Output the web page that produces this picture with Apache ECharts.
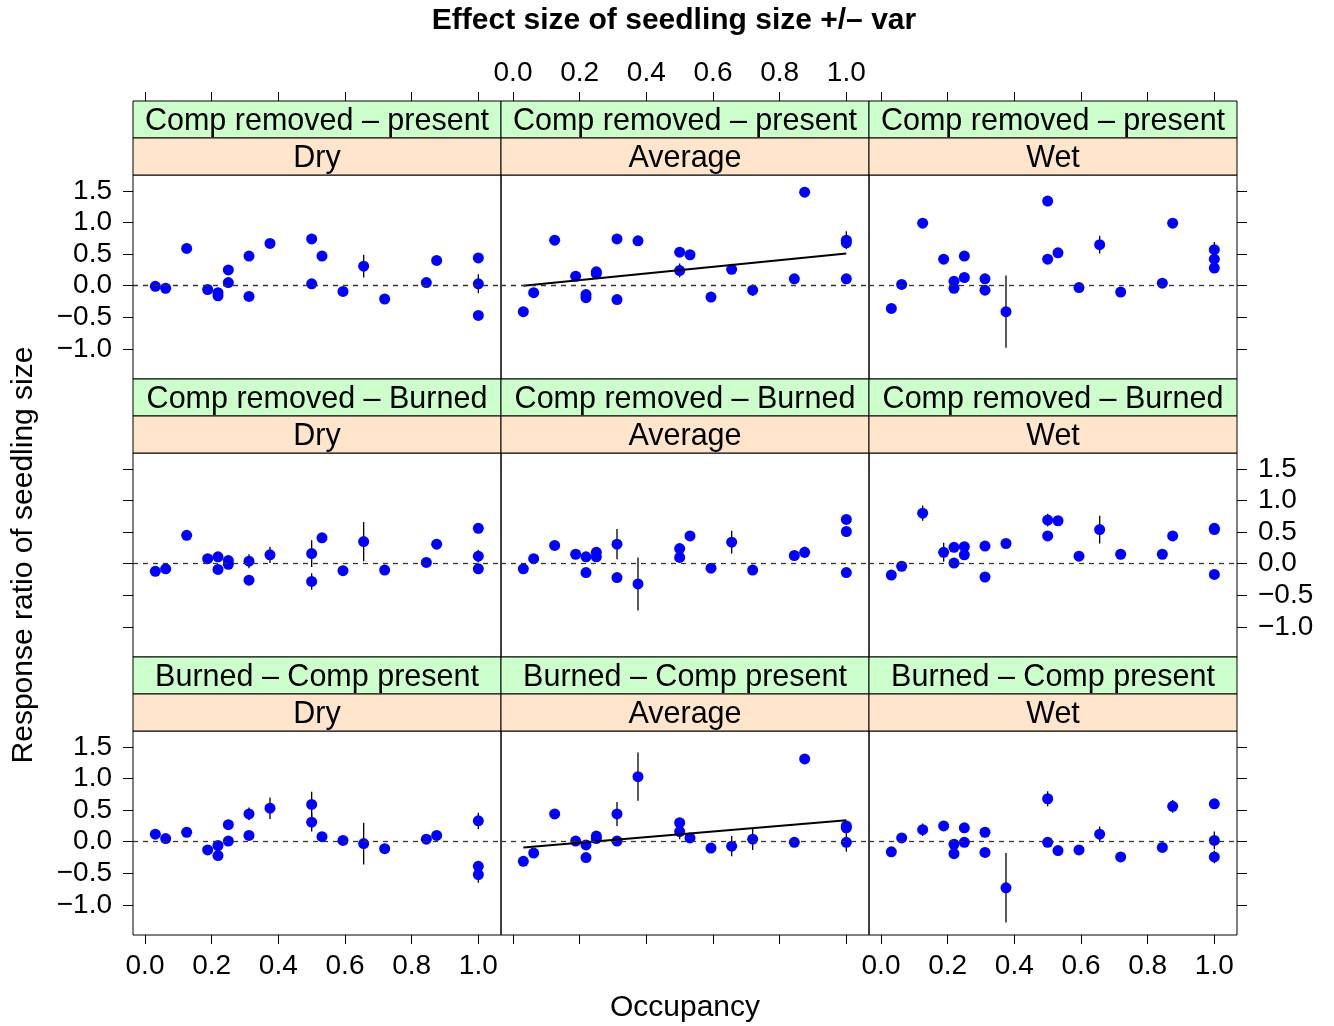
<!DOCTYPE html>
<html><head><meta charset="utf-8">
<script src="https://cdn.jsdelivr.net/npm/echarts@6/dist/echarts.min.js"></script>
<style>html,body{margin:0;padding:0;background:#fff}#c{width:1334px;height:1026px}</style>
</head><body><div id="c"></div>
<script>
// ---- data ----
const occTicks = [0, 0.2, 0.4, 0.6, 0.8, 1.0];
const ratioTicks = [-1, -0.5, 0, 0.5, 1, 1.5];
const treatments = ['Comp removed \u2013 present', 'Comp removed \u2013 Burned', 'Burned \u2013 Comp present'];
const seasons = ['Dry', 'Average', 'Wet'];

// [occupancy, response ratio, half error bar]
const presentDry = [[0.031,-0.01,0],[0.062,-0.04,0],[0.125,0.59,0],[0.188,-0.06,0],[0.219,-0.11,0],[0.219,-0.16,0],[0.25,0.25,0],[0.25,0.05,0],[0.312,0.47,0],[0.312,-0.17,0],[0.375,0.67,0],[0.5,0.74,0],[0.5,0.03,0],[0.531,0.47,0],[0.594,-0.09,0],[0.656,0.31,0.18],[0.719,-0.21,0],[0.844,0.05,0],[0.875,0.40,0],[1.0,0.44,0],[1.0,0.03,0.15],[1.0,-0.47,0]];
const presentAvg = [[0.031,-0.41,0],[0.062,-0.11,0],[0.125,0.72,0],[0.188,0.15,0],[0.219,-0.14,0],[0.219,-0.19,0],[0.25,0.22,0],[0.25,0.19,0],[0.312,0.74,0],[0.312,-0.22,0],[0.375,0.71,0],[0.5,0.53,0],[0.5,0.24,0.11],[0.531,0.49,0],[0.594,-0.18,0],[0.656,0.26,0],[0.719,-0.07,0.09],[0.844,0.11,0],[0.875,1.48,0],[1.0,0.72,0.14],[1.0,0.68,0],[1.0,0.11,0]];
const presentWet = [[0.031,-0.36,0],[0.062,0.02,0],[0.125,0.99,0],[0.188,0.42,0.05],[0.219,0.07,0],[0.219,-0.04,0],[0.25,0.47,0],[0.25,0.13,0],[0.312,0.11,0],[0.312,-0.07,0],[0.375,-0.41,0.57],[0.5,1.34,0],[0.5,0.42,0],[0.531,0.52,0],[0.594,-0.03,0],[0.656,0.65,0.14],[0.719,-0.10,0],[0.844,0.04,0],[0.875,0.99,0],[1.0,0.57,0.12],[1.0,0.42,0],[1.0,0.28,0]];
const burnedDry = [[0.031,-0.12,0],[0.062,-0.08,0],[0.125,0.45,0],[0.188,0.08,0],[0.219,0.11,0],[0.219,-0.09,0],[0.25,0.05,0],[0.25,-0.01,0],[0.312,0.04,0.11],[0.312,-0.26,0],[0.375,0.14,0.13],[0.5,0.16,0.21],[0.5,-0.28,0.13],[0.531,0.41,0],[0.594,-0.11,0],[0.656,0.35,0.31],[0.719,-0.10,0],[0.844,0.02,0],[0.875,0.31,0],[1.0,0.56,0],[1.0,0.12,0.10],[1.0,-0.08,0]];
const burnedAvg = [[0.031,-0.08,0],[0.062,0.08,0],[0.125,0.29,0],[0.188,0.15,0],[0.219,0.11,0],[0.219,-0.14,0],[0.25,0.18,0],[0.25,0.11,0],[0.312,0.31,0.24],[0.312,-0.22,0],[0.375,-0.32,0.42],[0.5,0.24,0],[0.5,0.10,0],[0.531,0.44,0],[0.594,-0.07,0],[0.656,0.34,0.18],[0.719,-0.10,0],[0.844,0.13,0],[0.875,0.18,0.09],[1.0,0.70,0],[1.0,0.51,0.08],[1.0,-0.14,0]];
const burnedWet = [[0.031,-0.18,0],[0.062,-0.04,0],[0.125,0.80,0.12],[0.188,0.18,0.15],[0.219,0.26,0],[0.219,0.01,0],[0.25,0.27,0],[0.25,0.14,0],[0.312,0.28,0],[0.312,-0.21,0],[0.375,0.32,0],[0.5,0.69,0.1],[0.5,0.44,0],[0.531,0.68,0],[0.594,0.12,0],[0.656,0.54,0.22],[0.719,0.15,0],[0.844,0.15,0],[0.875,0.44,0],[1.0,0.56,0.03],[1.0,0.54,0],[1.0,-0.17,0]];
const compDry = [[0.031,0.12,0],[0.062,0.05,0],[0.125,0.15,0],[0.188,-0.13,0],[0.219,-0.06,0],[0.219,-0.22,0],[0.25,0.27,0],[0.25,0.01,0],[0.312,0.44,0.1],[0.312,0.10,0],[0.375,0.53,0.17],[0.5,0.59,0.2],[0.5,0.31,0.15],[0.531,0.08,0],[0.594,0.02,0],[0.656,-0.03,0.33],[0.719,-0.11,0],[0.844,0.04,0],[0.875,0.10,0],[1.0,0.33,0.13],[1.0,-0.39,0],[1.0,-0.52,0.13]];
const compAvg = [[0.031,-0.31,0],[0.062,-0.18,0],[0.125,0.44,0],[0.188,0.01,0],[0.219,-0.05,0],[0.219,-0.25,0],[0.25,0.09,0],[0.25,0.05,0],[0.312,0.44,0.19],[0.312,0.01,0],[0.375,1.03,0.38],[0.5,0.30,0],[0.5,0.16,0.12],[0.531,0.06,0],[0.594,-0.10,0],[0.656,-0.07,0.16],[0.719,0.04,0.17],[0.844,-0.01,0],[0.875,1.31,0],[1.0,0.25,0],[1.0,0.22,0],[1.0,-0.01,0.15]];
const compWet = [[0.031,-0.16,0],[0.062,0.06,0],[0.125,0.19,0.1],[0.188,0.25,0],[0.219,-0.04,0],[0.219,-0.19,0],[0.25,0.22,0],[0.25,-0.01,0],[0.312,0.15,0],[0.312,-0.17,0],[0.375,-0.73,0.55],[0.5,0.68,0.12],[0.5,-0.01,0],[0.531,-0.14,0],[0.594,-0.13,0],[0.656,0.12,0.12],[0.719,-0.24,0],[0.844,-0.09,0],[0.875,0.56,0.1],[1.0,0.60,0],[1.0,0.02,0.14],[1.0,-0.24,0.1]];

// fitted regression lines (end points) for the two panels that show one
const fitPresentAvg = [[0.031, 0.0], [1.0, 0.51]];
const fitCompAvg = [[0.031, -0.09], [1.0, 0.34]];

const panels = [[presentDry, presentAvg, presentWet],[burnedDry, burnedAvg, burnedWet],[compDry, compAvg, compWet]];
const fits = [[null, fitPresentAvg, null],[null, null, null],[null, fitCompAvg, null]];

// ---- layout ----
const colLeft = [133, 501, 869];
const rowTop = [175, 453, 731];
const PW = 368, PH = 204, SH = 37;
const FONT = '"Liberation Sans", Arial, Helvetica, sans-serif';
const fmt = v => (v < 0 ? '\u2212' : '') + Math.abs(v).toFixed(1);

const grid = [], xAxis = [], yAxis = [], series = [], graphic = [];
for (let r = 0; r < 3; r++) {
  for (let c = 0; c < 3; c++) {
    const i = r * 3 + c;
    grid.push({left: colLeft[c], top: rowTop[r], width: PW, height: PH, show: true,
      borderColor: '#000', borderWidth: 1, backgroundColor: 'transparent', containLabel: false});
    xAxis.push({gridIndex: i, type: 'value', min: -0.036, max: 1.068,
      position: r === 0 ? 'top' : 'bottom', offset: r === 0 ? 2 * SH : 0,
      axisLine: {show: false, onZero: false}, splitLine: {show: false},
      axisTick: {show: r !== 1, length: 9, customValues: occTicks, lineStyle: {color: '#000', width: 1}},
      axisLabel: {show: (r === 0 && c === 1) || (r === 2 && c !== 1), customValues: occTicks,
        formatter: fmt, fontSize: 28, fontFamily: FONT, color: '#000', margin: r === 0 ? 14 : 17}});
    yAxis.push({gridIndex: i, type: 'value', min: -1.476, max: 1.752,
      position: c === 2 ? 'right' : 'left',
      axisLine: {show: false, onZero: false}, splitLine: {show: false},
      axisTick: {show: c !== 1, length: 10, customValues: ratioTicks, lineStyle: {color: '#000', width: 1}},
      axisLabel: {show: (c === 0 && r !== 1) || (c === 2 && r === 1), customValues: ratioTicks,
        formatter: fmt, fontSize: 28, fontFamily: FONT, color: '#000', margin: 21}});
    const d = panels[r][c];
    series.push({type: 'custom', xAxisIndex: i, yAxisIndex: i, z: 2, silent: true,
      data: d.filter(p => p[2] > 0),
      encode: {x: 0, y: 1},
      renderItem: (params, api) => {
        const x = api.value(0), y = api.value(1), e = api.value(2);
        const p1 = api.coord([x, y - e]), p2 = api.coord([x, y + e]);
        return {type: 'line', shape: {x1: p1[0], y1: p1[1], x2: p2[0], y2: p2[1]},
          style: {stroke: '#000', lineWidth: 1.3}};
      },
      markLine: {silent: true, symbol: 'none', label: {show: false}, animation: false,
        lineStyle: {color: '#333', width: 1.3, type: [5, 5]}, data: [{yAxis: 0}]}
    });
    series.push({type: 'scatter', xAxisIndex: i, yAxisIndex: i, z: 3, silent: true,
      symbol: 'circle', symbolSize: 11, itemStyle: {color: '#0000ff', opacity: 1},
      data: d.map(p => [p[0], p[1]])});
    if (fits[r][c]) {
      series.push({type: 'line', xAxisIndex: i, yAxisIndex: i, z: 4, silent: true,
        symbol: 'none', lineStyle: {color: '#000', width: 2}, data: fits[r][c]});
    }
    // strips
    const sy = rowTop[r] - 2 * SH;
    graphic.push({type: 'rect', shape: {x: colLeft[c], y: sy, width: PW, height: SH},
      style: {fill: '#ccffcc', stroke: '#000', lineWidth: 1}, z: 10});
    graphic.push({type: 'rect', shape: {x: colLeft[c], y: sy + SH, width: PW, height: SH},
      style: {fill: '#ffe5cc', stroke: '#000', lineWidth: 1}, z: 10});
    graphic.push({type: 'text', x: colLeft[c] + PW / 2, y: sy + SH / 2 + 2, z: 11,
      style: {text: treatments[r], fontSize: 30.5, fontFamily: FONT, fill: '#000', align: 'center', verticalAlign: 'middle'}});
    graphic.push({type: 'text', x: colLeft[c] + PW / 2, y: sy + SH * 1.5 + 2, z: 11,
      style: {text: seasons[c], fontSize: 30.5, fontFamily: FONT, fill: '#000', align: 'center', verticalAlign: 'middle'}});
  }
}
const plotCenterX = colLeft[0] + 1.5 * PW;
graphic.push({type: 'text', x: 674, y: 21, z: 11,
  style: {text: 'Effect size of seedling size +/\u2013 var', fontSize: 30, fontWeight: 'bold', fontFamily: FONT, fill: '#000', align: 'center', verticalAlign: 'middle'}});
graphic.push({type: 'text', x: plotCenterX, y: 1008, z: 11,
  style: {text: 'Occupancy', fontSize: 30, fontFamily: FONT, fill: '#000', align: 'center', verticalAlign: 'middle'}});
graphic.push({type: 'text', x: 24, y: (rowTop[0] + rowTop[2] + PH) / 2, rotation: Math.PI / 2, z: 11,
  style: {text: 'Response ratio of seedling size', fontSize: 30, fontFamily: FONT, fill: '#000', align: 'center', verticalAlign: 'middle'}});

const chart = echarts.init(document.getElementById('c'), null, {renderer: 'canvas'});
chart.setOption({animation: false, backgroundColor: '#fff', grid, xAxis, yAxis, series, graphic});
</script></body></html>
